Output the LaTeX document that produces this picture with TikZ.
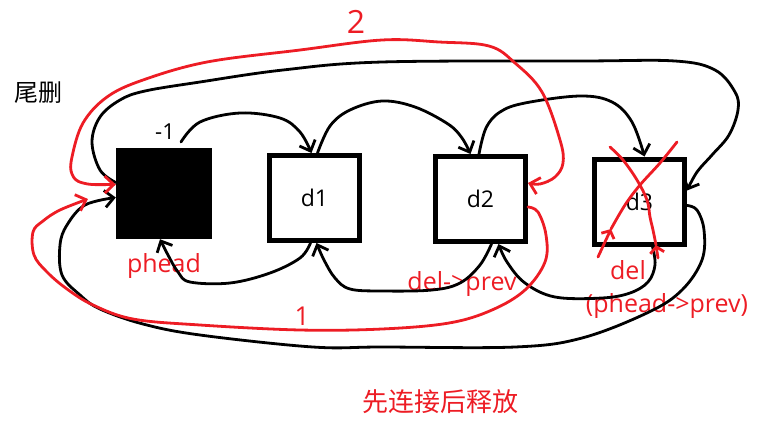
\documentclass[tikz,border=0pt]{standalone}
\usepackage{fontspec}
\setmainfont{Open Sans}
\newfontfamily\cjk{Noto Sans CJK SC}
\usetikzlibrary{arrows.meta}
\definecolor{pred}{RGB}{237,28,36}
\tikzset{
  x=1pt, y=-1pt,
  boxnode/.style={draw=black, line width=5pt, minimum width=90pt, minimum height=85pt, inner sep=0pt, font=\fontsize{23}{25}\selectfont},
  blk/.style={line width=2.8pt, black, line cap=round, line join=round},
  rln/.style={line width=2.8pt, pred, line cap=round, line join=round},
  tip/.style={-{Straight Barb[length=9pt,width=17pt]}},
  tipboth/.style={{Straight Barb[length=9pt,width=17pt]}-{Straight Barb[length=9pt,width=17pt]}},
  lbl/.style={inner sep=0pt, font=\fontsize{22}{24}\selectfont},
  rlbl/.style={lbl, text=pred, font=\fontsize{25}{27}\selectfont},
}
\begin{document}
\begin{tikzpicture}
\useasboundingbox (0,0) rectangle (764,424);
% nodes
\node[fill=black, minimum width=96pt, minimum height=91pt, inner sep=0pt] (phead) at (164,193.5) {};
\node[boxnode] (d1) at (314.5,198) {d1};
\node[boxnode] (d2) at (480.5,199) {d2};
\node[boxnode] (d3) at (639.5,201.5) {d3};
% labels
\node[lbl, font=\cjk\fontsize{24}{26}\selectfont] (title) at (38,93) {尾删};
\node[lbl] (m1) at (165,132) {-1};
\node[rlbl] (lphead) at (164,266) {phead};
\node[rlbl] (ldelprev) at (462,284) {del->prev};
\node[rlbl] (ldel) at (628,270) {del};
\node[rlbl] (lpp) at (667,306) {(phead->prev)};
\node[rlbl, font=\cjk\fontsize{26}{28}\selectfont] (note) at (440,402) {先连接后释放};
\node[rlbl, font=\fontsize{32}{34}\selectfont] (s2) at (356,22) {2};
\node[rlbl, font=\fontsize{26}{28}\selectfont] (s1) at (302,316) {1};
\coordinate (a0) at (181,142);
\coordinate (r1end) at (88,199);
% black next arrows
\draw[blk, tip] plot[smooth, tension=0.6] coordinates {(a0) (200,122) (240,113) (280,118) (300,132) ([xshift=-3pt]d1.north)};
\draw[blk, tip] plot[smooth, tension=0.6] coordinates {([xshift=3pt]d1.north) (330,126) (350,110) (382,101) (415,107) (448,124) (462,138) ([xshift=-10pt]d2.north)};
\draw[blk, tip] plot[smooth, tension=0.6] coordinates {([xshift=-1.5pt]d2.north) (486,128) (500,112) (525,103) (580,96) (612,102) (632,122) ([xshift=5pt]d3.north)};
\draw[blk, tip] plot[smooth, tension=0.6] coordinates {([yshift=11pt]phead.west) (100,170) (92,142) (100,117) (120,100) (145,91) (200,82) (283,70) (382,62) (582,61) (675,61) (715,70) (735,92) (738,110) (729,135) (712,155) (697,172) ([yshift=11pt]d3.east)};
% black prev arrows
\draw[blk, tip] plot[smooth, tension=0.6] coordinates {([xshift=-4pt]d1.south) (300,258) (270,273) (230,283) (190,282) (178,272) (168,255) ([xshift=-4pt]phead.south)};
\draw[blk, tip] plot[smooth, tension=0.6] coordinates {([xshift=11pt]d2.south) (480,265) (460,283) (432,290) (382,291) (350,289) (335,278) (324,260) ([xshift=2pt]d1.south)};
\draw[blk, tip] plot[smooth, tension=0.6] coordinates {([xshift=13pt]d3.south) (655,265) (648,282) (630,293) (602,298) (555,297) (525,283) (507,262) ([xshift=18pt]d2.south)};
\draw[blk, tip] plot[smooth, tension=0.6] coordinates {([yshift=-4pt]d3.east) (697,210) (704,230) (702,260) (682,290) (649,312) (582,338) (515,347) (382,347) (313,347) (200,335) (143,324) (100,309) (80,295) (62,275) (60,245) (67,225) (85,205) ([yshift=-4pt]phead.west)};
% red steps
\draw[rln, tipboth] plot[smooth, tension=0.6] coordinates {([yshift=9pt]phead.west) (83,183) (72,174) (72,157) (83,123) (107,97) (143,80) (207,62) (300,50) (382,40) (439,42) (489,46) (515,63) (542,92) (560,140) (563,163) (555,177) (540,184) ([yshift=16pt]d2.east)};
\draw[rln, tip] plot[smooth, tension=0.6] coordinates {([yshift=-8pt]d2.east) (538,212) (546,235) (545,262) (525,290) (492,310) (449,323) (382,329) (300,330) (200,325) (133,319) (93,305) (67,289) (47,272) (34,255) (33,232) (43,221) (60,210) (r1end)};
% red cross on d3
\draw[rln] plot[smooth, tension=0.6] coordinates {(610,147) (623,160) (637,180) (647,200) (650,217) (653,230) (656,245)};
\draw[rln, {Straight Barb[length=6pt,width=14pt]}-] (656,245) -- (658,258);
\draw[rln] plot[smooth, tension=0.6] coordinates {(677,142) (660,163) (640,185) (625,205) (611,229)};
\draw[rln, {Straight Barb[length=6pt,width=14pt]}-] (611,229) -- (598,257);
\end{tikzpicture}
\end{document}
